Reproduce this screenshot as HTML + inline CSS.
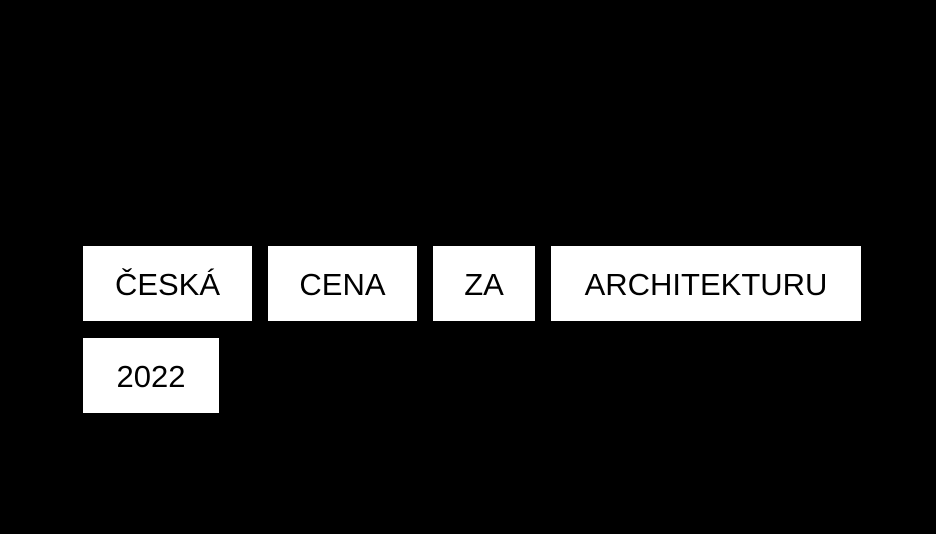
<!DOCTYPE html>
<html><head><meta charset="utf-8"><style>
html,body{margin:0;padding:0;background:#000;width:936px;height:534px;overflow:hidden}
.b{position:absolute;background:#fff;color:#000;display:flex;align-items:center;justify-content:center;font-family:"Liberation Sans",sans-serif;font-size:31px;line-height:1;padding-top:2px;box-sizing:border-box}
</style></head><body>
<div class="b" style="left:83px;top:246px;width:169px;height:75px">ČESKÁ</div>
<div class="b" style="left:268px;top:246px;width:149px;height:75px">CENA</div>
<div class="b" style="left:433px;top:246px;width:102px;height:75px">ZA</div>
<div class="b" style="left:551px;top:246px;width:310px;height:75px">ARCHITEKTURU</div>
<div class="b" style="left:83px;top:338px;width:136px;height:75px">2022</div>
</body></html>
